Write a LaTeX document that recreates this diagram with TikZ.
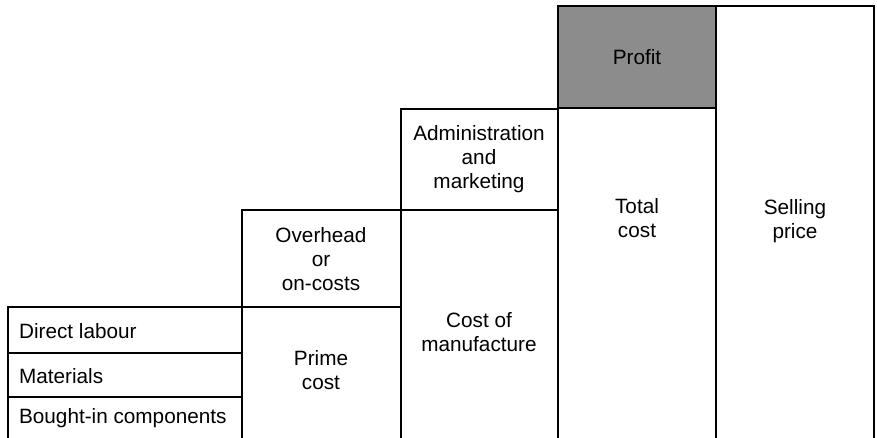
\documentclass[tikz,border=0pt]{standalone}
\usepackage{fontspec}
\setmainfont{Liberation Sans}
\usetikzlibrary{positioning}
\tikzset{
  costbox/.style={draw, line width=0.9pt},
  profitbox/.style={draw, line width=0.9pt, fill=black!45},
  costlabel/.style={font=\fontsize{11.8}{13.8}\selectfont, align=center, inner sep=1pt},
  itemlabel/.style={font=\fontsize{11.8}{13.8}\selectfont, anchor=west, inner sep=1pt}
}

\begin{document}
\begin{tikzpicture}[x=0.02cm, y=-0.02cm]
  \useasboundingbox (0,0) rectangle (877,437);
  \clip (0,0) rectangle (877,437);
  % steps, left to right
  \draw[costbox] (8,307) rectangle (242,450);
  \draw[costbox] (8,353) -- (242,353);
  \draw[costbox] (8,397) -- (242,397);
  \draw[costbox] (242,210) rectangle (401,307);
  \draw[costbox] (242,307) rectangle (401,450);
  \draw[costbox] (401,109) rectangle (558,210);
  \draw[costbox] (401,210) rectangle (558,450);
  \draw[profitbox] (558,6) rectangle (716,108);
  \draw[costbox] (558,108) rectangle (716,450);
  \draw[costbox] (716,6) rectangle (874,450);
  % texts
  \node[itemlabel] (labour) at (17,331) {Direct labour};
  \node[itemlabel] (materials) at (17,376) {Materials};
  \node[itemlabel] (bought) at (17,418) {Bought-in components};
  \node[costlabel] (overhead) at (321,259) {Overhead\\or\\on-costs};
  \node[costlabel] (prime) at (321,370) {Prime\\cost};
  \node[costlabel] (admin) at (479,159) {Administration\\and\\marketing};
  \node[costlabel] (manuf) at (479,332) {Cost of\\manufacture};
  \node[costlabel] (profit) at (637,57) {Profit};
  \node[costlabel] (total) at (637,218) {Total\\cost};
  \node[costlabel] (selling) at (795,221) {Selling\\price};
\end{tikzpicture}
\end{document}
